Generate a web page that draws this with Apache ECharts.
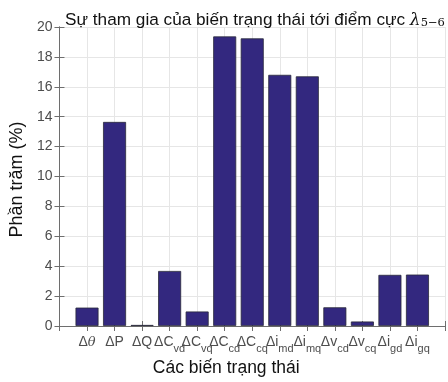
<!DOCTYPE html>
<html><head><meta charset="utf-8">
<script src="https://cdn.jsdelivr.net/npm/echarts@6/dist/echarts.min.js"></script>
<style>html,body{margin:0;padding:0;background:#fff}#c{width:448px;height:382px}</style>
</head><body><div id="c"></div>
<script>
const categories = [
  ['Δ','θ',''], ['ΔP','',''], ['ΔQ','',''], ['ΔC','','vd'], ['ΔC','','vq'], ['ΔC','','cd'], ['ΔC','','cq'],
  ['Δi','','md'], ['Δi','','mq'], ['Δv','','cd'], ['Δv','','cq'], ['Δi','','gd'], ['Δi','','gq']
];
const values = [1.23, 13.65, 0.07, 3.68, 0.97, 19.37, 19.24, 16.8, 16.7, 1.25, 0.3, 3.42, 3.44];
const yTicks = [0, 2, 4, 6, 8, 10, 12, 14, 16, 18, 20];

const FONT = '"Liberation Sans", Arial, sans-serif';
const chart = echarts.init(document.getElementById('c'), null, {renderer: 'canvas'});
const data = values.map((v, i) => [i + 1, v]);
const axisColor = '#6e6e6e';
chart.setOption({
  animation: false,
  title: {
    text: '{a|Sự tham gia của biến trạng thái tới điểm cực }{l|λ}{s|5−6}',
    left: 250, top: 2, textAlign: 'center',
    textStyle: {
      fontWeight: 'normal',
      rich: {
        a: {fontFamily: FONT, fontWeight: 'normal', fontSize: 17.2, color: '#111', lineHeight: 22, verticalAlign: 'bottom'},
        l: {fontFamily: '"DejaVu Serif", serif', fontWeight: 'normal', fontStyle: 'italic', fontSize: 17, color: '#111', lineHeight: 22, verticalAlign: 'bottom'},
        s: {fontFamily: '"DejaVu Serif", serif', fontWeight: 'normal', fontSize: 11.5, color: '#111', lineHeight: 22, verticalAlign: 'bottom', padding: [6, 0, 0, 0]}
      }
    }
  },
  grid: {left: 54, right: -1, top: 27, bottom: 47, containLabel: false},
  xAxis: [{
    type: 'value', min: 0, max: 14, interval: 1,
    name: 'Các biến trạng thái', nameLocation: 'middle', nameGap: 33,
    nameTextStyle: {fontFamily: FONT, fontSize: 17.5, color: '#111', padding: [0, 0, 0, -52]},
    axisLine: {show: true, lineStyle: {color: axisColor}},
    axisTick: {show: true, inside: true, length: 5, lineStyle: {color: axisColor}},
    splitLine: {show: true, lineStyle: {color: '#e6e6e6'}},
    axisLabel: {
      margin: 6,
      formatter: function (v) {
        const c = categories[v - 1];
        if (!c) return '';
        let s = '{b|' + c[0] + '}';
        if (c[1]) s += '{t|' + c[1] + '}';
        if (c[2]) s += '{s|' + c[2] + '}';
        return s;
      },
      rich: {
        b: {fontFamily: FONT, fontSize: 14, color: '#4d4d4d', lineHeight: 20, verticalAlign: 'bottom', padding: [0,0,3,0]},
        t: {fontFamily: '"DejaVu Serif", serif', fontStyle: 'italic', fontSize: 13, color: '#4d4d4d', lineHeight: 20, verticalAlign: 'bottom', padding: [0,0,3,0]},
        s: {fontFamily: FONT, fontSize: 11, color: '#4d4d4d', lineHeight: 20, verticalAlign: 'bottom', padding: [0,0,-2,0]}
      }
    }
  }, {
    type: 'value', min: 0, max: 14, interval: 1, position: 'top',
    axisLine: {show: true, lineStyle: {color: axisColor}},
    axisTick: {show: true, inside: true, length: 5, lineStyle: {color: axisColor}},
    axisLabel: {show: false}, splitLine: {show: false}
  }],
  yAxis: [{
    type: 'value', min: 0, max: 20, interval: 2,
    name: 'Phần trăm (%)', nameLocation: 'middle', nameGap: 17,
    nameTextStyle: {fontFamily: FONT, fontSize: 18, color: '#111', padding: [0, 0, 0, -6]},
    axisLine: {show: true, lineStyle: {color: axisColor}},
    axisTick: {show: true, inside: true, length: 5, lineStyle: {color: axisColor}},
    splitLine: {show: true, lineStyle: {color: '#e6e6e6'}},
    axisLabel: {fontFamily: FONT, fontSize: 14, color: '#4d4d4d', margin: 7,
      formatter: v => yTicks.includes(v) ? String(v) : ''}
  }, {
    type: 'value', min: 0, max: 20, interval: 2, position: 'right',
    axisLine: {show: true, lineStyle: {color: axisColor}},
    axisTick: {show: true, inside: true, length: 5, lineStyle: {color: axisColor}},
    axisLabel: {show: false}, splitLine: {show: false}
  }],
  series: [{
    type: 'bar', data: data, barWidth: 23,
    itemStyle: {color: '#33287f', borderColor: '#2a2a3a', borderWidth: 0.8}
  }]
});
</script></body></html>
